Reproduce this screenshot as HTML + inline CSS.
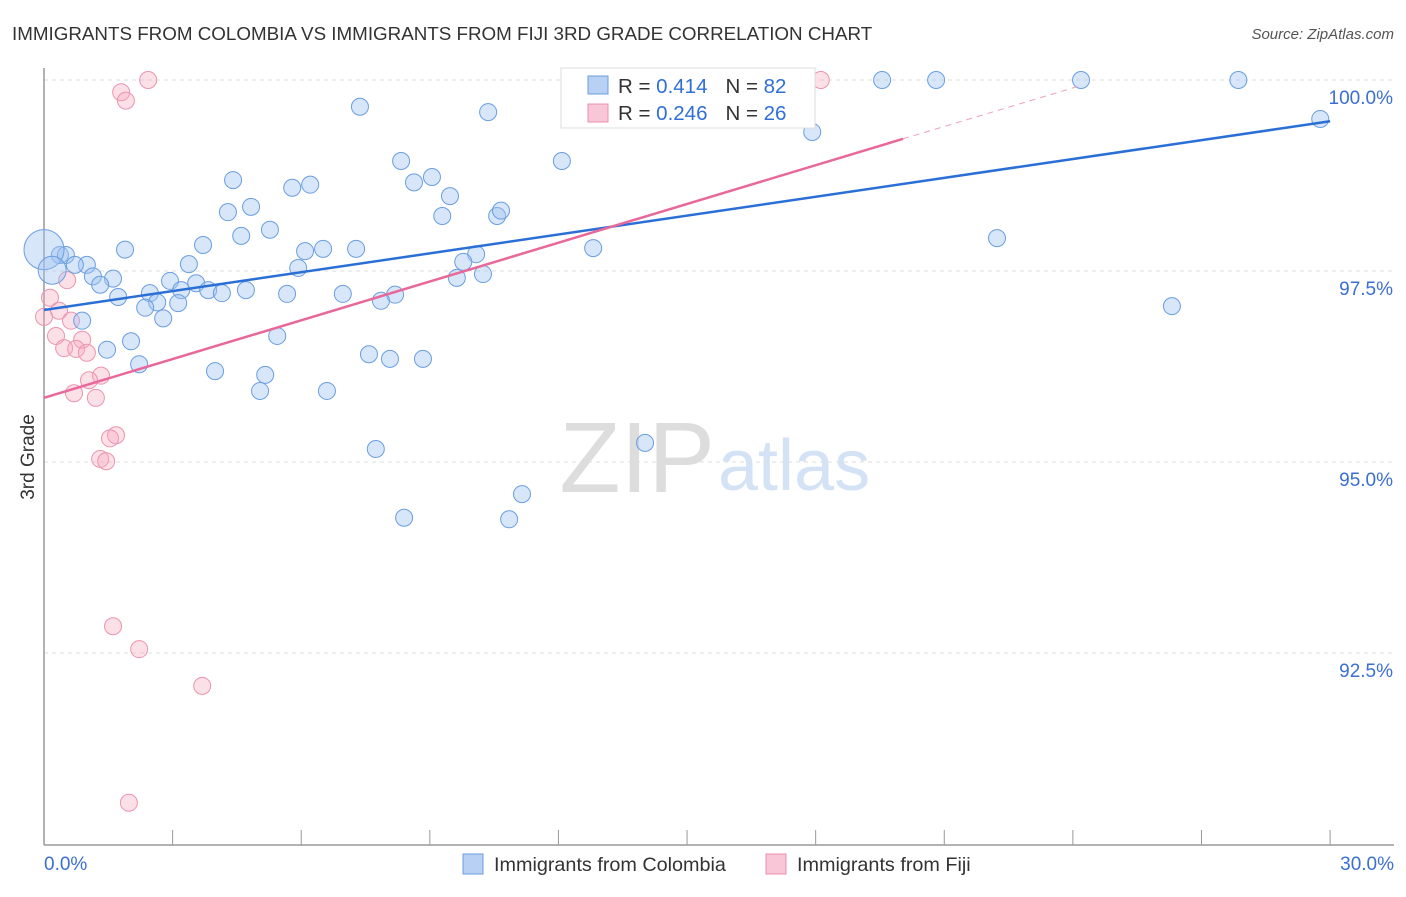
<!DOCTYPE html>
<html><head><meta charset="utf-8">
<style>
body{margin:0;background:#fff;width:1406px;height:892px;overflow:hidden;font-family:"Liberation Sans",sans-serif}
svg text{font-family:"Liberation Sans",sans-serif}
</style></head>
<body>
<svg id="chart" width="1406" height="892" viewBox="0 0 1406 892">
<text x="12" y="40" font-size="18.8" fill="#333">IMMIGRANTS FROM COLOMBIA VS IMMIGRANTS FROM FIJI 3RD GRADE CORRELATION CHART</text>
<text x="1394" y="39" font-size="15" fill="#555" text-anchor="end" font-style="italic">Source: ZipAtlas.com</text>
<text x="0" y="0" transform="translate(34,457) rotate(-90)" font-size="19" fill="#333" text-anchor="middle">3rd Grade</text>
<text x="715" y="492" font-size="100" fill="#ddd" text-anchor="end" font-family="Liberation Serif">ZIP</text>
<text x="718" y="490" font-size="72" fill="#d4e2f5">atlas</text>
<g id="grid"></g>
<g id="axes"></g>
<g id="points"></g>
<g id="lines"></g>
<g>
<rect x="561" y="68" width="254" height="60" fill="#fff" stroke="#ddd"/>
<rect x="588" y="76" width="20" height="18" fill="#b8d0f3" stroke="#6a9ee0"/>
<text x="618" y="93" font-size="20.5" fill="#333"><tspan>R = </tspan><tspan fill="#2f6fd6">0.414</tspan><tspan dx="18">N = </tspan><tspan fill="#2f6fd6">82</tspan></text>
<rect x="588" y="104" width="20" height="18" fill="#f8c6d6" stroke="#e890ab"/>
<text x="618" y="120" font-size="20.5" fill="#333"><tspan>R = </tspan><tspan fill="#2f6fd6">0.246</tspan><tspan dx="18">N = </tspan><tspan fill="#2f6fd6">26</tspan></text>
</g>
<g>
<rect x="463" y="854" width="20" height="20" fill="#b8d0f3" stroke="#6a9ee0"/>
<text x="494" y="871" font-size="19.8" fill="#333">Immigrants from Colombia</text>
<rect x="766" y="854" width="20" height="20" fill="#f8c6d6" stroke="#e890ab"/>
<text x="797" y="871" font-size="19.8" fill="#333">Immigrants from Fiji</text>
</g>
</svg>
<script>
const yTicks=[100,97.5,95,92.5];
const yTickLabels=["100.0%","97.5%","95.0%","92.5%"];
const xEndLabels=["0.0%","30.0%"];
const colombiaX=[13.18,13.84,15.33,19.55,20.81,24.19,27.86,7.37,10.36,17.92,29.77,8.33,12.08,4.41,8.63,9.05,5.79,6.21,9.47,4.83,4.29,9.29,10.57,10.66,5.27,4.60,3.71,1.89,6.09,6.51,7.28,22.23,12.81,10.08,9.78,0.37,0.51,1.00,0.72,5.93,3.38,1.14,1.61,2.94,3.55,1.31,9.63,10.24,2.47,3.20,3.83,4.71,5.67,6.97,8.19,4.15,1.73,2.64,3.13,2.36,7.86,26.31,2.78,0.89,5.44,2.03,1.47,7.58,8.07,8.84,2.22,3.99,5.16,5.04,6.60,7.74,14.02,11.15,8.40,10.85,0.0,0.19];
const colombiaY=[100,100,100,100,100,100,100,99.65,99.58,99.32,99.49,98.94,98.94,98.69,98.66,98.73,98.59,98.63,98.48,98.34,98.27,98.22,98.22,98.29,98.04,97.96,97.84,97.78,97.76,97.79,97.79,97.93,97.80,97.72,97.62,97.71,97.71,97.58,97.58,97.54,97.59,97.43,97.40,97.37,97.34,97.32,97.41,97.46,97.21,97.25,97.25,97.25,97.20,97.20,97.19,97.21,97.16,97.09,97.08,97.02,97.11,97.04,96.88,96.85,96.65,96.58,96.47,96.41,96.35,96.35,96.28,96.19,96.14,95.93,95.93,95.17,95.25,94.58,94.27,94.25,97.78,97.51];
const colombiaSize=[8.5,8.5,8.5,8.5,8.5,8.5,8.5,8.5,8.5,8.5,8.5,8.5,8.5,8.5,8.5,8.5,8.5,8.5,8.5,8.5,8.5,8.5,8.5,8.5,8.5,8.5,8.5,8.5,8.5,8.5,8.5,8.5,8.5,8.5,8.5,8.5,8.5,8.5,8.5,8.5,8.5,8.5,8.5,8.5,8.5,8.5,8.5,8.5,8.5,8.5,8.5,8.5,8.5,8.5,8.5,8.5,8.5,8.5,8.5,8.5,8.5,8.5,8.5,8.5,8.5,8.5,8.5,8.5,8.5,8.5,8.5,8.5,8.5,8.5,8.5,8.5,8.5,8.5,8.5,8.5,20,14];
const fijiX=[2.43,1.80,1.91,18.12,0.54,0.14,0.35,0.0,0.63,0.28,0.89,0.47,0.75,1.00,1.33,1.05,0.70,1.21,1.68,1.54,1.31,1.45,1.61,2.22,3.69,1.98];
const fijiY=[100,99.84,99.73,100,97.38,97.15,96.98,96.90,96.85,96.65,96.60,96.49,96.48,96.43,96.13,96.07,95.90,95.84,95.35,95.31,95.04,95.01,92.85,92.55,92.07,90.54];
const colombiaTrend=[[0,96.99],[30,99.46]];
const fijiTrend=[[0,95.84],[20.04,99.23]];
const fijiTrendExt=[[20.04,99.23],[24.2,99.93]];

const NS="http://www.w3.org/2000/svg";
const X=v=>44+v*42.87;
const Y=v=>80+(100-v)*76.4;
function mk(tag,attrs,parent){const e=document.createElementNS(NS,tag);for(const k in attrs)e.setAttribute(k,attrs[k]);parent.appendChild(e);return e;}
const grid=document.getElementById('grid'),axes=document.getElementById('axes'),pts=document.getElementById('points'),lines=document.getElementById('lines');
yTicks.forEach((t,i)=>{
 const l=mk('line',{x1:44,x2:1394,y1:Y(t),y2:Y(t),stroke:'#ddd','stroke-dasharray':'4,4'},grid);
 
 
 const tx=mk('text',{x:1393,y:Y(t)+24,'font-size':19,fill:'#3b6fd0','text-anchor':'end'},axes);
 tx.textContent=yTickLabels[i];
 
 
});
const ya=mk('line',{x1:44,x2:44,y1:68,y2:845,stroke:'#999','stroke-width':1.5},axes);


const xa=mk('line',{x1:44,x2:1394,y1:845,y2:845,stroke:'#999','stroke-width':1.5},axes);


for(let i=0;i<=10;i++){
 const t=mk('line',{x1:X(i*3),x2:X(i*3),y1:830,y2:845,stroke:'#999'},axes);
 
 
}
const xl0=mk('text',{x:44,y:870,'font-size':19,fill:'#3b6fd0'},axes);xl0.textContent=xEndLabels[0];


const xl1=mk('text',{x:1394,y:870,'font-size':19,fill:'#3b6fd0','text-anchor':'end'},axes);xl1.textContent=xEndLabels[1];


fijiX.forEach((x,i)=>{
 const c=mk('circle',{cx:X(x),cy:Y(fijiY[i]),r:8.5,fill:'rgba(245,165,190,0.35)',stroke:'#eb94b0','stroke-width':1},pts);
 
 
});
colombiaX.forEach((x,i)=>{
 const c=mk('circle',{cx:X(x),cy:Y(colombiaY[i]),r:colombiaSize[i],fill:'rgba(160,195,240,0.42)',stroke:'#6a9ee0','stroke-width':1},pts);
 
 
});
const bl=mk('line',{x1:X(colombiaTrend[0][0]),y1:Y(colombiaTrend[0][1]),x2:X(colombiaTrend[1][0]),y2:Y(colombiaTrend[1][1]),stroke:'#2a6fd6','stroke-width':2.5},lines);


const pl=mk('line',{x1:X(fijiTrend[0][0]),y1:Y(fijiTrend[0][1]),x2:X(fijiTrend[1][0]),y2:Y(fijiTrend[1][1]),stroke:'#e8689a','stroke-width':2.5},lines);


const pe=mk('line',{x1:X(fijiTrendExt[0][0]),y1:Y(fijiTrendExt[0][1]),x2:X(fijiTrendExt[1][0]),y2:Y(fijiTrendExt[1][1]),stroke:'#eda0b8','stroke-width':1,'stroke-dasharray':'6,5'},lines);


</script>
</body></html>
